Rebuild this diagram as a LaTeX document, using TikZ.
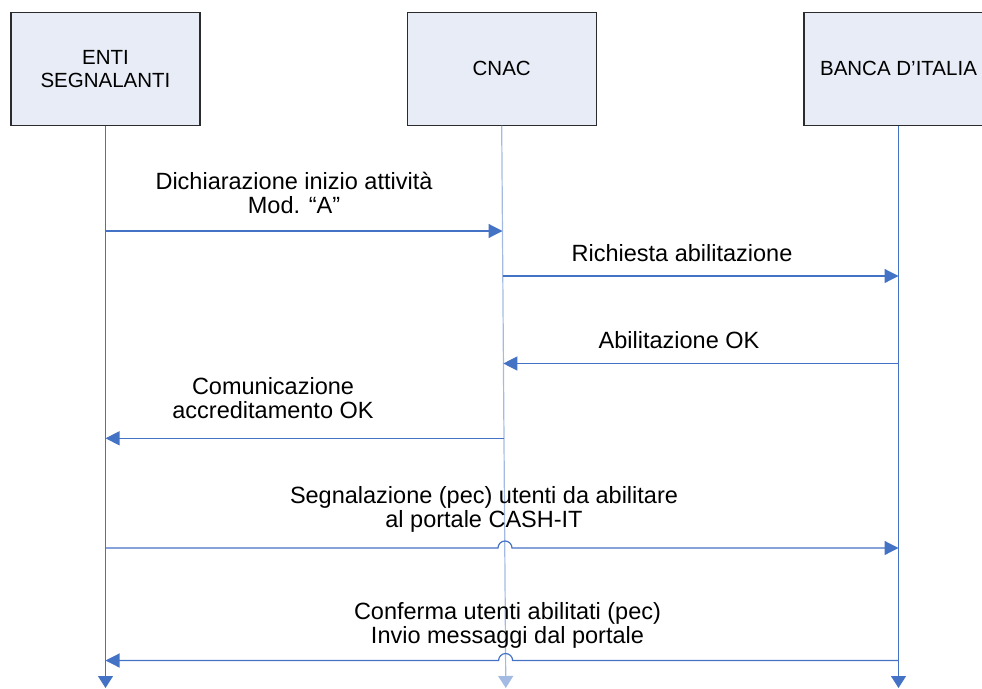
\documentclass[tikz,border=0pt]{standalone}
\usepackage{fontspec}
\setmainfont{Liberation Sans}
\usetikzlibrary{arrows.meta}
\definecolor{lane}{HTML}{4472C4}
\definecolor{lanelight}{HTML}{A3BBE3}
\definecolor{boxfill}{HTML}{E7ECF6}
\definecolor{boxdraw}{HTML}{2B2B2B}
\begin{document}
\begin{tikzpicture}[x=1pt,y=-1pt,
  actor/.style={draw=boxdraw, line width=1.1pt, fill=boxfill, minimum width=189pt, minimum height=113pt, inner sep=0pt, align=center, font=\fontsize{20.5}{23}\selectfont},
  lifeline/.style={draw=lane, line width=1.2pt, -{Triangle[length=12pt,width=15pt]}},
  msg/.style={draw=lane, line width=1.2pt, -{Triangle[length=14pt,width=14pt]}},
  lbl/.style={inner sep=0pt, anchor=base, font=\fontsize{23.5}{22.5}\selectfont}]
\useasboundingbox (0,0) rectangle (982,688);
\begin{scope}
\clip (0,0) rectangle (982,688);
\node[actor] (enti) at (105.5,68.7) {ENTI\\SEGNALANTI};
\node[actor] (cnac) at (501.7,68.7) {CNAC};
\node[actor] (bi) at (898.5,68.7) {BANCA D’ITALIA};
\end{scope}
% lifeline ends
\coordinate (eB) at (105.5,688);
\coordinate (cB) at (505.8,688);
\coordinate (bB) at (898.5,688);
\draw[lifeline] (enti.south) -- (eB);
\draw[lifeline, draw=lanelight] (cnac.south) -- (cB);
\draw[lifeline] (bi.south) -- (bB);
% message anchors
\coordinate (e1) at (105.5,231);   \coordinate (c1) at (502.5,231);
\coordinate (c2) at (502.7,276);   \coordinate (b2) at (898.5,276);
\coordinate (b3) at (898.5,363.5); \coordinate (c3) at (503.3,363.5);
\coordinate (c4) at (503.7,438.3); \coordinate (e4) at (105.5,438.3);
\coordinate (e5) at (105.5,548);   \coordinate (c5) at (505,548);   \coordinate (b5) at (898.5,548);
\coordinate (b6) at (898.5,660.5); \coordinate (c6) at (505.6,660.5); \coordinate (e6) at (105.5,660.5);
\draw[msg] (e1) -- (c1);
\draw[msg] (c2) -- (b2);
\draw[msg] (b3) -- (c3);
\draw[msg] (c4) -- (e4);
\draw[msg] (e5) -- ([xshift=-7pt]c5) arc[start angle=180, end angle=360, radius=7] -- (b5);
\draw[msg] (b6) -- ([xshift=7pt]c6) arc[start angle=0, end angle=-180, radius=7] -- (e6);
% labels
\node[lbl] (l1) at (294,213) {\begin{tabular}[b]{@{}c@{}}Dichiarazione inizio attività\\Mod. “A”\end{tabular}};
\node[lbl] (l2) at (682,261) {Richiesta abilitazione};
\node[lbl] (l3) at (679,348) {Abilitazione OK};
\node[lbl] (l4) at (273,418) {\begin{tabular}[b]{@{}c@{}}Comunicazione\\accreditamento OK\end{tabular}};
\node[lbl] (l5) at (484,527) {\begin{tabular}[b]{@{}c@{}}Segnalazione (pec) utenti da abilitare\\al portale CASH-IT\end{tabular}};
\node[lbl] (l6) at (507.5,643) {\begin{tabular}[b]{@{}c@{}}Conferma utenti abilitati (pec)\\Invio messaggi dal portale\end{tabular}};
\end{tikzpicture}
\end{document}
